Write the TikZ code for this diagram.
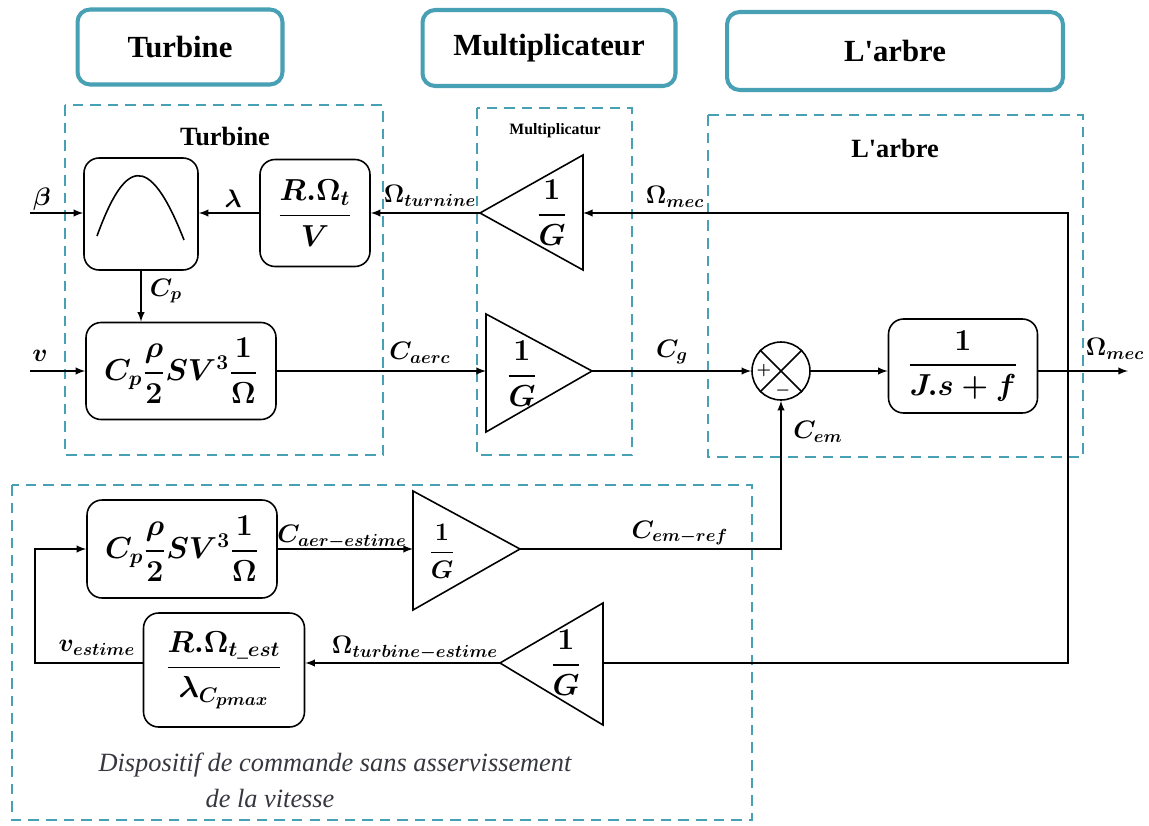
\documentclass[tikz,border=0pt]{standalone}
\usepackage{amsmath}
\usepackage{amssymb}
\usepackage{fontspec}
\setmainfont{Liberation Serif}
\usepackage{tikz}
\usetikzlibrary{arrows}
\definecolor{tealb}{RGB}{72,160,180}
\definecolor{capgray}{RGB}{55,55,65}
\tikzstyle{hdr} = [draw=tealb, line width=2.3pt, rounded corners=0.25cm,
   font=\fontsize{17.5}{20}\selectfont\bfseries]
\tikzstyle{grp} = [draw=tealb, line width=1.4pt, dash pattern=on 6pt off 4pt]
\tikzstyle{blk} = [draw, line width=0.9pt, rectangle, rounded corners=0.3cm, font=\LARGE\boldmath]
\tikzstyle{sig} = [line width=0.9pt, -latex]
\tikzstyle{lbl} = [font=\Large\boldmath, inner sep=1pt]

\begin{document}
\begin{tikzpicture}[x=0.02cm, y=-0.02cm]
			\useasboundingbox (0,0) rectangle (1149,825);

			% headers
			\node[hdr, minimum width=4.1cm, minimum height=1.5cm] (h1) at (180,47) {Turbine};
			\node[hdr, minimum width=5.06cm, minimum height=1.52cm] (h2) at (549,48) {Multiplicateur};
			\node[hdr, minimum width=6.72cm, minimum height=1.56cm] (h3) at (895,51) {L\textquotesingle arbre};

			% dashed groups
			\draw[grp] (65,105) rectangle (383,455);
			\draw[grp] (477,108) rectangle (632,455);
			\draw[grp] (708,115) rectangle (1083,457);
			\draw[grp] (12,485) rectangle (752,820);
			\node[font=\fontsize{15}{18}\selectfont\bfseries] (t1) at (225,137) {Turbine};
			\node[font=\fontsize{9}{10}\selectfont\bfseries] (t2) at (555,131) {Multiplicatur};
			\node[font=\fontsize{15}{18}\selectfont\bfseries] (t3) at (895,148) {L\textquotesingle arbre};

			% turbine
			\node[blk, minimum width=2.28cm, minimum height=2.24cm] (cp) at (141,214) {};
			\draw[line width=0.9pt] (97,236) .. controls (124,162) and (148,148) .. (184,240);
			\node[blk, minimum width=2.2cm, minimum height=2.14cm] (rv) at (315,213) {$\dfrac{R.\Omega_t}{V}$};
			\node[blk, minimum width=3.8cm, minimum height=1.94cm] (pa) at (181,371) {$C_p\dfrac{\rho}{2}SV^3\dfrac{1}{\Omega}$};
			\coordinate (bin) at (30,213);
			\coordinate (vin) at (30,371);

			% multiplicateur
			\coordinate (g1tip) at (480,213);
			\coordinate (g1in) at (583,213);
			\draw[line width=0.9pt] (g1tip) -- (583,155) -- (583,270) -- cycle;
			\node[font=\LARGE\boldmath] (g1) at (552,213) {$\dfrac{1}{G}$};
			\coordinate (g2in) at (486,371);
			\coordinate (g2tip) at (592,371);
			\draw[line width=0.9pt] (g2tip) -- (486,314) -- (486,432) -- cycle;
			\node[font=\LARGE\boldmath] (g2) at (522,374) {$\dfrac{1}{G}$};

			% arbre
			\node[draw, line width=0.9pt, circle, minimum size=1.16cm] (s) at (781,371) {};
			\draw[line width=0.9pt] (s.north west) -- (s.south east);
			\draw[line width=0.9pt] (s.north east) -- (s.south west);
			\node[font=\small\boldmath] (plus) at (764,371) {$+$};
			\node[font=\small\boldmath] (minus) at (783,391) {$-$};
			\node[blk, minimum width=2.98cm, minimum height=1.88cm] (js) at (963,366) {$\dfrac{1}{J.s+f}$};
			\coordinate (br) at (1068,371);
			\coordinate (out) at (1128,371);

			% commande
			\node[blk, minimum width=3.8cm, minimum height=1.96cm] (pb) at (182,549) {$C_p\dfrac{\rho}{2}SV^3\dfrac{1}{\Omega}$};
			\coordinate (g3in) at (413,549);
			\coordinate (g3tip) at (520,549);
			\draw[line width=0.9pt] (g3tip) -- (413,491) -- (413,610) -- cycle;
			\node[font=\Large\boldmath] (g3) at (442,551) {$\dfrac{1}{G}$};
			\coordinate (g4tip) at (500,663);
			\coordinate (g4in) at (603,663);
			\draw[line width=0.9pt] (g4tip) -- (603,603) -- (603,725) -- cycle;
			\node[font=\LARGE\boldmath] (g4) at (566,663) {$\dfrac{1}{G}$};
			\node[blk, minimum width=3.22cm, minimum height=2.28cm] (est) at (224,670) {$\dfrac{R.\Omega_{t\_est}}{\lambda_{C_{pmax}}}$};
			\coordinate (lp) at (35,663);

			% signals
			\draw[sig] (bin) -- (bin -| cp.west);
			\draw[sig] (rv.west) -- (rv.west -| cp.east);
			\draw[sig] (cp.south) -- (cp.south |- pa.north);
			\draw[sig] (vin) -- (pa.west);
			\draw[sig] (g1tip) -- (rv.east);
			\draw[sig] (pa.east) -- (g2in);
			\draw[sig] (g2tip) -- (s.west);
			\draw[sig] (s.east) -- (s.east -| js.west);
			\draw[sig] (js.east |- out) -- (out);
			\draw[sig] (br) |- (g1in);
			\draw[line width=0.9pt] (br) |- (g4in);
			\draw[sig] (pb.east) -- (g3in);
			\draw[sig] (g3tip) -| (s.south);
			\draw[sig] (g4tip) -- (g4tip -| est.east);
			\draw[sig] (est.west |- g4tip) -- (lp) |- (pb.west);

			% labels
			\node[lbl] (lb1) at (42,199) {$\beta$};
			\node[lbl] (lb2) at (40,356) {$v$};
			\node[lbl] (lb3) at (233,199) {$\lambda$};
			\node[lbl] (lb4) at (166,291) {$C_p$};
			\node[lbl] (lb5) at (430,196) {$\Omega_{turnine}$};
			\node[lbl] (lb6) at (420,353) {$C_{aerc}$};
			\node[lbl] (lb7) at (672,352) {$C_g$};
			\node[lbl] (lb8) at (675,197) {$\Omega_{mec}$};
			\node[lbl] (lb9) at (1115,349) {$\Omega_{mec}$};
			\node[lbl] (lb10) at (818,432) {$C_{em}$};
			\node[lbl] (lb11) at (342,537) {$C_{aer-estime}$};
			\node[lbl] (lb12) at (680,533) {$C_{em-ref}$};
			\node[lbl] (lb13) at (415,648) {$\Omega_{turbine-estime}$};
			\node[lbl] (lb14) at (97,648) {$v_{estime}$};

			% caption
			\node[font=\fontsize{15}{18}\selectfont\itshape, text=capgray] (c1) at (335,765) {Dispositif de commande sans asservissement};
			\node[font=\fontsize{15}{18}\selectfont\itshape, text=capgray] (c2) at (270,798) {de la vitesse};
		\end{tikzpicture}
\end{document}
